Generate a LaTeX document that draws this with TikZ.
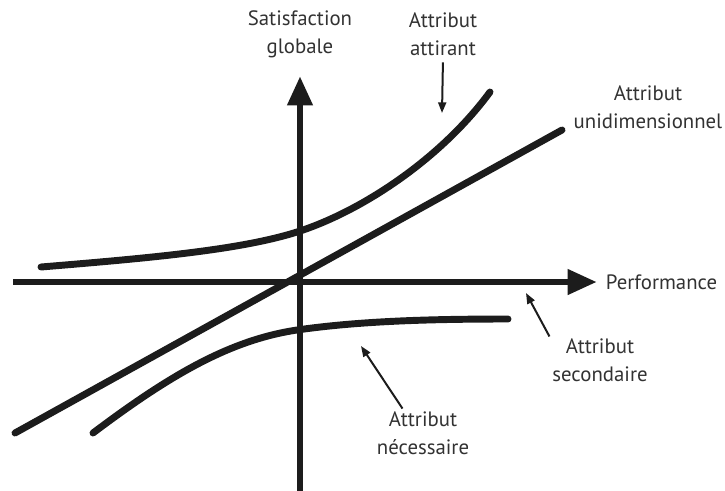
\documentclass[tikz,border=0pt]{standalone}
\usepackage{fontspec}
\setmainfont{PT Sans}
\usepackage{xcolor}
\usepackage{tikz}
\usetikzlibrary{arrows.meta}
\definecolor{inkblack}{RGB}{28,28,28}
\definecolor{labgray}{RGB}{50,50,50}

\begin{document}
\begin{tikzpicture}[
  x=0.75pt, y=-0.75pt,
  font=\fontsize{15.6}{21}\selectfont,
  lab/.style={text=labgray, align=center, inner sep=2pt},
  axis/.style={-{Triangle[length=22pt, width=18pt]}, line width=5.2pt, inkblack},
  curve/.style={line width=5.2pt, line cap=round, inkblack},
  pointer/.style={-{Triangle[length=8pt, width=6pt]}, line width=1.5pt, inkblack}
]
\useasboundingbox (0,0) rectangle (725,490);
\coordinate (xstart) at (13,282);
\coordinate (xend)   at (597,282);
\coordinate (ystart) at (300,492);
\coordinate (yend)   at (300,76);
\draw[axis] (xstart) -- (xend);
\draw[axis] (ystart) -- (yend);
\draw[curve] (41,267) .. controls (150,258) and (240,250) .. (297,232)
                      .. controls (360,212) and (440,160) .. (490,92);
\draw[curve] (15,433) -- (562,130);
\draw[curve] (93,433) .. controls (170,375) and (230,340) .. (297,330)
                      .. controls (360,321) and (430,319) .. (508,319);
\node[lab] at (300,34)  (sat)  {Satisfaction\\globale};
\node[lab] at (443,34)  (att)  {Attribut\\attirant};
\node[lab] at (648,107) (uni)  {Attribut\\unidimensionnel};
\node[lab, anchor=west] at (603,282) (perf) {Performance};
\node[lab] at (600,360) (sec)  {Attribut\\secondaire};
\node[lab] at (423,433) (nec)  {Attribut\\nécessaire};
\coordinate (attTip) at (442,113);
\coordinate (secTip) at (526,293);
\coordinate (necTip) at (361,346);
\draw[pointer, shorten <=3pt] (att.south) -- (attTip);
\draw[pointer] (sec.155) -- (secTip);
\draw[pointer] (nec.130) -- (necTip);
\end{tikzpicture}
\end{document}
